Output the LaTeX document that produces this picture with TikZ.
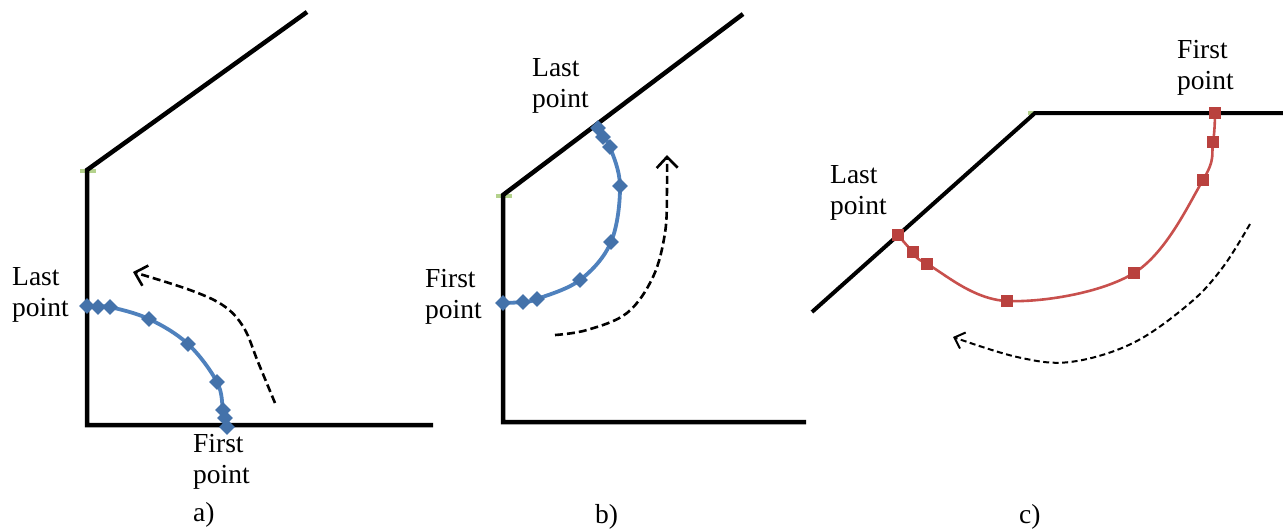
\documentclass[tikz,border=0pt]{standalone}
\usepackage{fontspec}
\setmainfont{Liberation Serif}
\usetikzlibrary{shapes.geometric,arrows.meta}
\definecolor{bluecurve}{RGB}{79,129,189}
\definecolor{bluemark}{RGB}{68,114,170}
\definecolor{redcurve}{RGB}{200,80,77}
\definecolor{redmark}{RGB}{185,65,62}
\definecolor{greenmark}{RGB}{180,210,140}
\tikzset{
  wall/.style={line width=4.5pt, line join=miter},
  wallmark/.style={greenmark, line width=3.5pt},
  bcurve/.style={bluecurve, line width=3.8pt},
  rcurve/.style={redcurve, line width=2.6pt},
  dmark/.style={diamond, fill=bluemark, inner sep=0pt, minimum size=16pt},
  smark/.style={rectangle, fill=redmark, inner sep=0pt, minimum size=12pt},
  flow/.style={dashed, dash pattern=on 8pt off 4pt, line width=2.6pt, -{Straight Barb[length=11pt,width=21pt,line width=2.6pt]}},
  lbl/.style={align=left, inner sep=0pt, anchor=north west, font=\fontsize{27.5}{31}\selectfont},
  caplbl/.style={inner sep=0pt, anchor=base west, font=\fontsize{27.5}{31}\selectfont}
}
\begin{document}
\begin{tikzpicture}[x=1pt,y=-1pt]
\useasboundingbox (0,0) rectangle (1283,531);

% ---------- panel a ----------
\coordinate (aT) at (307,12);
\coordinate (aC) at (87,170);
\coordinate (aB) at (87,425);
\coordinate (aR) at (433,425);
\coordinate (ag1) at (80,171);
\coordinate (ag2) at (96,171);
\draw[wallmark] (ag1) -- (ag2);
\draw[wall] (aT) -- (aC) -- (aB) -- (aR);
\coordinate (ap1) at (227,427);
\coordinate (ap2) at (225,418);
\coordinate (ap3) at (223,410);
\coordinate (ap4) at (217,382);
\coordinate (ap5) at (188,344);
\coordinate (ap6) at (149,319);
\coordinate (ap7) at (110,307);
\coordinate (ap8) at (98,307);
\coordinate (ap9) at (87,306);
\draw[bcurve] plot[smooth, tension=0.6] coordinates {(ap1) (ap2) (ap3) (ap4) (ap5) (ap6) (ap7) (ap8) (ap9)};
\node[dmark] (am1) at (ap1) {};
\node[dmark] (am2) at (ap2) {};
\node[dmark] (am3) at (ap3) {};
\node[dmark] (am4) at (ap4) {};
\node[dmark] (am5) at (ap5) {};
\node[dmark] (am6) at (ap6) {};
\node[dmark] (am7) at (ap7) {};
\node[dmark] (am8) at (ap8) {};
\node[dmark] (am9) at (ap9) {};
\coordinate (af1) at (275,403);
\coordinate (af2) at (258,362);
\coordinate (af3) at (244,328);
\coordinate (af4) at (224,306);
\coordinate (af5) at (190,290);
\coordinate (af6) at (133,272);
\draw[flow] plot[smooth, tension=0.6] coordinates {(af1) (af2) (af3) (af4) (af5) (af6)};
\node[lbl] (aLast) at (12,267) {Last\\point};
\node[lbl] (aFirst) at (193,434) {First\\point};
\node[caplbl] (acap) at (193,521) {a)};

% ---------- panel b ----------
\coordinate (bT) at (743,14);
\coordinate (bC) at (503,195);
\coordinate (bB) at (503,422);
\coordinate (bR) at (806,422);
\coordinate (bg1) at (496,196);
\coordinate (bg2) at (512,196);
\draw[wallmark] (bg1) -- (bg2);
\draw[wall] (bT) -- (bC) -- (bB) -- (bR);
\coordinate (bp1) at (503,303);
\coordinate (bp2) at (523,302);
\coordinate (bp3) at (537,299);
\coordinate (bp4) at (580,280);
\coordinate (bp5) at (611,242);
\coordinate (bp6) at (620,186);
\coordinate (bp7) at (610,147);
\coordinate (bp8) at (603,137);
\coordinate (bp9) at (598,128);
\draw[bcurve] plot[smooth, tension=0.6] coordinates {(bp1) (bp2) (bp3) (bp4) (bp5) (bp6) (bp7) (bp8) (bp9)};
\node[dmark] (bm1) at (bp1) {};
\node[dmark] (bm2) at (bp2) {};
\node[dmark] (bm3) at (bp3) {};
\node[dmark] (bm4) at (bp4) {};
\node[dmark] (bm5) at (bp5) {};
\node[dmark] (bm6) at (bp6) {};
\node[dmark] (bm7) at (bp7) {};
\node[dmark] (bm8) at (bp8) {};
\node[dmark] (bm9) at (bp9) {};
\coordinate (bf1) at (555,335);
\coordinate (bf2) at (587,330);
\coordinate (bf3) at (627,313);
\coordinate (bf4) at (653,277);
\coordinate (bf5) at (665,233);
\coordinate (bf6) at (667,190);
\coordinate (bf7) at (667,155);
\draw[flow] plot[smooth, tension=0.6] coordinates {(bf1) (bf2) (bf3) (bf4) (bf5) (bf6) (bf7)};
\node[lbl] (bLast) at (532,58) {Last\\point};
\node[lbl] (bFirst) at (425,269) {First\\point};
\node[caplbl] (bcap) at (595,523) {b)};

% ---------- panel c ----------
\coordinate (cR) at (1283,113);
\coordinate (cC) at (1035,113);
\coordinate (cL) at (812,312);
\coordinate (cg1) at (1028,113);
\coordinate (cg2) at (1044,113);
\draw[wallmark] (cg1) -- (cg2);
\draw[wall, line width=4pt] (cR) -- (cC) -- (cL);
\coordinate (cp1) at (1215,113);
\coordinate (cp2) at (1213,142);
\coordinate (cp3) at (1203,180);
\coordinate (cp4) at (1134,273);
\coordinate (cp5) at (1007,301);
\coordinate (cp6) at (927,264);
\coordinate (cp7) at (913,252);
\coordinate (cp8) at (898,235);
\draw[rcurve] plot[smooth, tension=0.6] coordinates {(cp1) (cp2) (cp3) (cp4) (cp5) (cp6) (cp7) (cp8)};
\node[smark] (cm1) at (cp1) {};
\node[smark] (cm2) at (cp2) {};
\node[smark] (cm3) at (cp3) {};
\node[smark] (cm4) at (cp4) {};
\node[smark] (cm5) at (cp5) {};
\node[smark] (cm6) at (cp6) {};
\node[smark] (cm7) at (cp7) {};
\node[smark] (cm8) at (cp8) {};
\coordinate (cf1) at (1250,224);
\coordinate (cf2) at (1223,267);
\coordinate (cf3) at (1190,303);
\coordinate (cf4) at (1133,343);
\coordinate (cf5) at (1070,362);
\coordinate (cf6) at (1017,357);
\coordinate (cf7) at (953,337);
\draw[flow, line width=2pt, dash pattern=on 6pt off 3.5pt, -{Straight Barb[length=9pt,width=17pt,line width=2pt]}] plot[smooth, tension=0.6] coordinates {(cf1) (cf2) (cf3) (cf4) (cf5) (cf6) (cf7)};
\node[lbl] (cFirst) at (1177,40) {First\\point};
\node[lbl] (cLast) at (830,165) {Last\\point};
\node[caplbl] (ccap) at (1019,523) {c)};
\end{tikzpicture}
\end{document}
